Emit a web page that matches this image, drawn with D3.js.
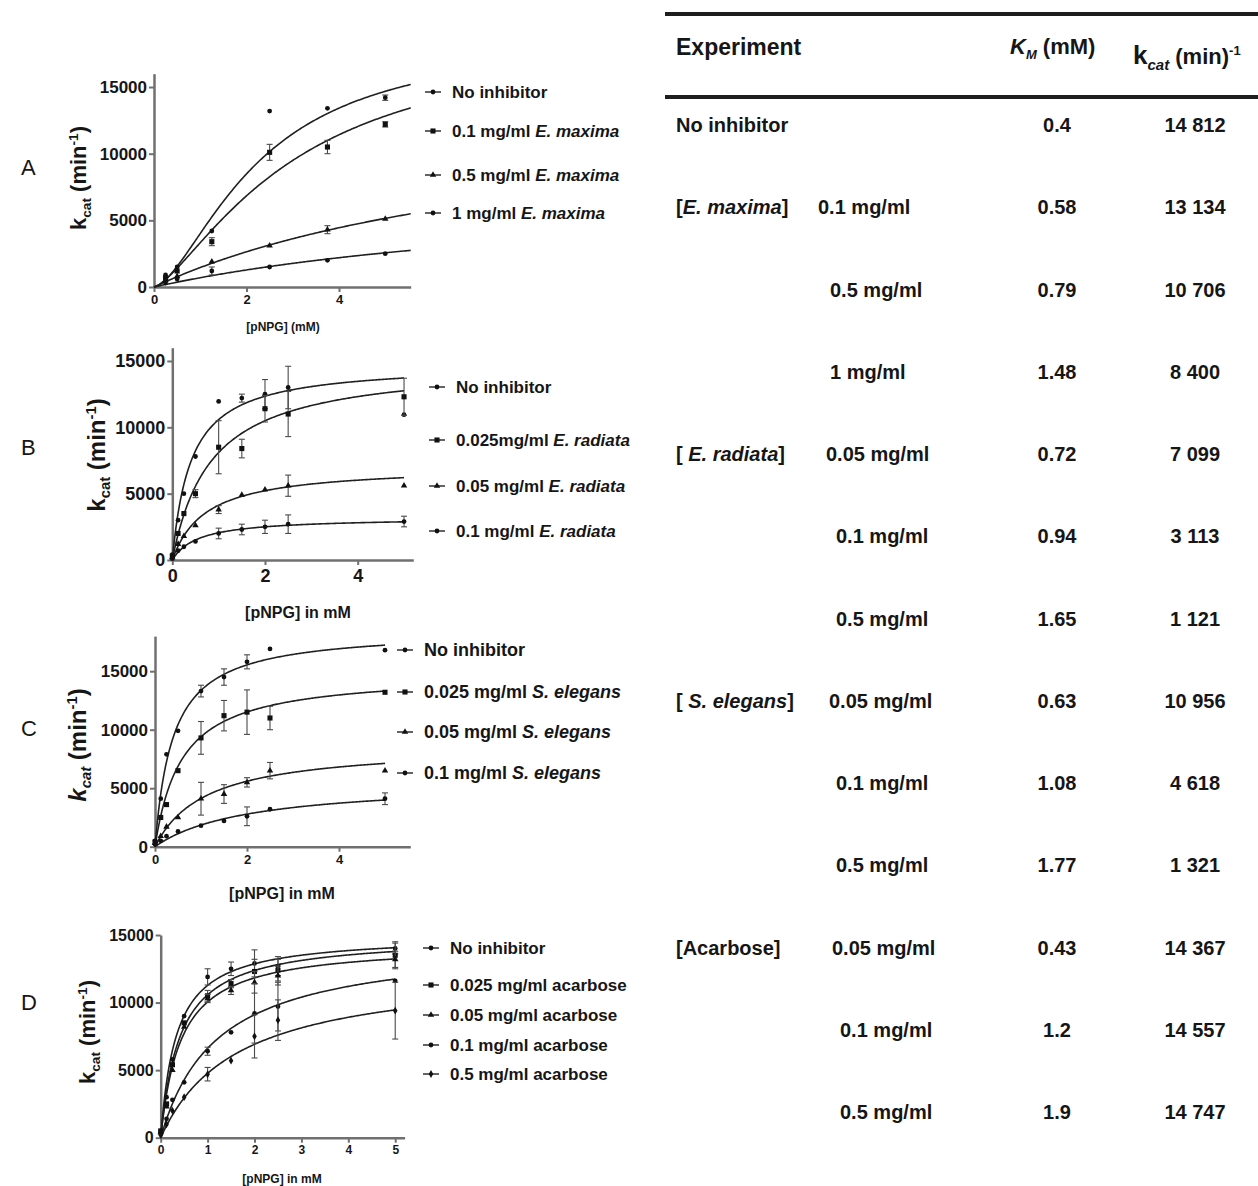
<!DOCTYPE html>
<html>
<head>
<meta charset="utf-8">
<script src="https://cdn.jsdelivr.net/npm/d3@7"></script>
<style>
  body { margin: 0; background: #fff; }
  svg { display: block; font-family: "Liberation Sans", Arial, sans-serif; }
</style>
</head>
<body>
<svg id="fig" width="1258" height="1186"></svg>
<script>
// ---------- Panel A: E. maxima extract ----------
const concA = [0.25, 0.5, 1.25, 2.5, 3.75, 5];
const legendA = [["No inhibitor"], ["0.1 mg/ml ", "E. maxima"], ["0.5 mg/ml ", "E. maxima"], ["1 mg/ml ", "E. maxima"]];
const rateA = [
  [900, 1500, 4200, 13200, 13400, 14200],
  [700, 1200, 3400, 10100, 10500, 12200],
  [500, 800, 1900, 3100, 4300, 5100],
  [300, 600, 1200, 1500, 2000, 2500]
];
const errA = [
  [0, 0, 0, 0, 0, 200],
  [0, 0, 300, 600, 500, 200],
  [0, 0, 0, 0, 300, 0],
  [0, 0, 300, 0, 0, 0]
];
const vmaxA = [18800, 19300, 14000, 7800];
const kmA = [2.26, 3.07, 8.6, 10.2];
const hillA = [1.6, 1.4, 1, 1];

// ---------- Panel B: E. radiata extract ----------
const concB = [0, 0.125, 0.25, 0.5, 1, 1.5, 2, 2.5, 5];
const legendB = [["No inhibitor"], ["0.025mg/ml ", "E. radiata"], ["0.05 mg/ml ", "E. radiata"], ["0.1 mg/ml ", "E. radiata"]];
const rateB = [
  [400, 3000, 5000, 7800, 11950, 12200, 12500, 13000, 10950],
  [300, 2000, 3500, 5000, 8500, 8400, 11400, 11000, 12300],
  [200, 1200, 1800, 2600, 3800, 4900, 5300, 5600, 5600],
  [100, 700, 1000, 1400, 2000, 2300, 2500, 2700, 2900]
];
const errB = [
  [0, 0, 0, 0, 0, 300, 1100, 1600, 0],
  [0, 0, 0, 300, 2000, 700, 1000, 1700, 1400],
  [0, 0, 0, 0, 300, 0, 0, 800, 0],
  [0, 0, 0, 0, 400, 400, 500, 700, 400]
];
const vmaxB = [14812, 14900, 7099, 3200];
const kmB = [0.4, 0.84, 0.72, 0.56];
const hillB = [1, 1, 1, 1];

// ---------- Panel C: S. elegans extract ----------
const concC = [0, 0.125, 0.25, 0.5, 1, 1.5, 2, 2.5, 5];
const legendC = [["No inhibitor"], ["0.025 mg/ml ", "S. elegans"], ["0.05 mg/ml ", "S. elegans"], ["0.1 mg/ml ", "S. elegans"]];
const rateC = [
  [500, 4100, 7900, 9900, 13300, 14500, 15800, 16900, 16800],
  [400, 2500, 3600, 6500, 9300, 11200, 11500, 11000, 13200],
  [300, 900, 1700, 2500, 4100, 4500, 5500, 6500, 6500],
  [200, 500, 900, 1300, 1800, 2200, 2600, 3200, 4100]
];
const errC = [
  [0, 0, 0, 0, 500, 700, 600, 0, 0],
  [0, 0, 0, 0, 1400, 1300, 1900, 1000, 0],
  [0, 0, 0, 0, 1400, 800, 400, 700, 0],
  [0, 0, 0, 0, 0, 0, 800, 0, 500]
];
const vmaxC = [18570, 14850, 8700, 5610];
const kmC = [0.39, 0.58, 1.11, 2.03];
const hillC = [1, 1, 1, 1];

// ---------- Panel D: acarbose ----------
const concD = [0, 0.125, 0.25, 0.5, 1, 1.5, 2, 2.5, 5];
const legendD = [["No inhibitor"], ["0.025 mg/ml acarbose"], ["0.05 mg/ml acarbose"], ["0.1 mg/ml acarbose"], ["0.5 mg/ml acarbose"]];
const rateD = [
  [500, 3000, 5800, 9000, 11900, 12500, 12900, 12700, 14000],
  [500, 2500, 5400, 8500, 10500, 11400, 12300, 12400, 13500],
  [400, 2300, 5000, 8200, 10300, 10900, 11500, 12000, 13200],
  [300, 1400, 2800, 4100, 6400, 7800, 9200, 9700, 11600],
  [200, 1000, 2000, 3000, 4700, 5700, 7500, 8700, 9400]
];
const errD = [
  [0, 0, 0, 0, 600, 500, 1000, 700, 400],
  [0, 0, 0, 0, 400, 300, 900, 800, 1000],
  [0, 0, 0, 0, 300, 300, 800, 700, 600],
  [0, 0, 0, 0, 300, 0, 2200, 1800, 0],
  [0, 0, 0, 0, 500, 0, 1600, 1500, 2100]
];
const vmaxD = [14990, 14910, 14367, 14557, 12540];
const kmD = [0.33, 0.41, 0.43, 1.2, 1.63];
const hillD = [1, 1, 1, 1, 1];

const yTickValues = [0, 5000, 10000, 15000];

// ---------- Kinetic parameter table ----------
const rowGroup = [["No inhibitor"], ["[", "E. maxima", "]"], null, null, ["[ ", "E. radiata", "]"], null, null,
                  ["[ ", "S. elegans", "]"], null, null, ["[Acarbose]"], null, null];
const rowDose = ["", "0.1 mg/ml", "0.5 mg/ml", "1 mg/ml", "0.05 mg/ml", "0.1 mg/ml", "0.5 mg/ml",
                 "0.05 mg/ml", "0.1 mg/ml", "0.5 mg/ml", "0.05 mg/ml", "0.1 mg/ml", "0.5 mg/ml"];
const rowKm = ["0.4", "0.58", "0.79", "1.48", "0.72", "0.94", "1.65", "0.63", "1.08", "1.77", "0.43", "1.2", "1.9"];
const rowKcat = ["14 812", "13 134", "10 706", "8 400", "7 099", "3 113", "1 121", "10 956", "4 618", "1 321",
                 "14 367", "14 557", "14 747"];

const svg = d3.select("#fig");
const INK = "#161616";
const AXIS = "#707070";
const symbols = [d3.symbolCircle, d3.symbolSquare, d3.symbolTriangle, d3.symbolCircle, d3.symbolDiamond];

const hillFn = (V, K, h) => s => V * Math.pow(s, h) / (Math.pow(K, h) + Math.pow(s, h));

// writes segments into a text node, odd segments in italics
function richText(sel, parts) {
  parts.forEach((t, i) => {
    sel.append("tspan").text(t).attr("font-style", i % 2 === 1 ? "italic" : null);
  });
}

function drawPanel(p) {
  const g = svg.append("g");
  const x = d3.scaleLinear().domain(p.xDomain).range(p.xRange);
  const y = d3.scaleLinear().domain(p.yDomain).range(p.yRange);

  // axes
  const gx = g.append("g").attr("transform", `translate(0,${p.yRange[0]})`)
    .call(d3.axisBottom(x).tickValues(p.xTicks).tickSizeInner(5).tickSizeOuter(0).tickPadding(p.xTickPad).tickFormat(d3.format("d")));
  const gy = g.append("g").attr("transform", `translate(${p.xRange[0]},0)`)
    .call(d3.axisLeft(y).tickValues(yTickValues).tickSizeInner(5).tickSizeOuter(0).tickPadding(2).tickFormat(d3.format("d")));
  [gx, gy].forEach(a => {
    a.select(".domain").attr("stroke", AXIS).attr("stroke-width", 2.5);
    a.selectAll(".tick line").attr("stroke", AXIS).attr("stroke-width", 2);
    a.selectAll(".tick text").attr("fill", INK).attr("font-family", null).attr("font-weight", "bold");
  });
  gx.selectAll(".tick text").attr("font-size", p.xTickSize);
  gy.selectAll(".tick text").attr("font-size", p.yTickSize);

  // fitted curves
  const samples = d3.range(0, 201).map(i => p.curveEnd * i / 200);
  p.vmax.forEach((V, i) => {
    const f = hillFn(V, p.km[i], p.hill[i]);
    g.append("path")
      .attr("d", d3.line().x(s => x(s)).y(s => y(f(s)))(samples))
      .attr("fill", "none").attr("stroke", "#202020").attr("stroke-width", 1.6);
  });

  // error bars and points
  p.rates.forEach((series, i) => {
    series.forEach((v, j) => {
      const e = p.errs[i][j];
      if (e > 0) {
        const cx = x(p.conc[j]);
        const eg = g.append("g").attr("stroke", "#4a4a4a").attr("stroke-width", 1.1);
        eg.append("line").attr("x1", cx).attr("x2", cx).attr("y1", y(v - e)).attr("y2", y(v + e));
        eg.append("line").attr("x1", cx - 3).attr("x2", cx + 3).attr("y1", y(v - e)).attr("y2", y(v - e));
        eg.append("line").attr("x1", cx - 3).attr("x2", cx + 3).attr("y1", y(v + e)).attr("y2", y(v + e));
      }
    });
    g.selectAll(null).data(series).enter().append("path")
      .attr("transform", (v, j) => `translate(${x(p.conc[j])},${y(v)})`)
      .attr("d", d3.symbol().type(symbols[i]).size(i === 1 ? 26 : 18))
      .attr("fill", "#111");
  });

  // legend
  p.legend.forEach((parts, i) => {
    const ly = p.legendY[i];
    g.append("line").attr("x1", p.legendX - 8).attr("x2", p.legendX + 8).attr("y1", ly).attr("y2", ly)
      .attr("stroke", "#222").attr("stroke-width", 1.4);
    g.append("path").attr("transform", `translate(${p.legendX},${ly})`)
      .attr("d", d3.symbol().type(symbols[i]).size(i === 1 ? 26 : 18)).attr("fill", "#111");
    const t = g.append("text").attr("x", p.legendX + 19).attr("y", ly).attr("dy", "0.35em")
      .attr("font-size", p.legendSize).attr("font-weight", "bold").attr("fill", INK);
    richText(t, parts);
  });

  // panel letter
  g.append("text").attr("x", 21).attr("y", p.letterY).attr("dy", "0.35em").attr("font-size", 22)
    .attr("fill", INK).text(p.letter);

  // y-axis title: k_cat (min^-1)
  const yl = g.append("text")
    .attr("transform", `translate(${p.yLabel[0]},${p.yLabel[1]}) rotate(-90)`)
    .attr("text-anchor", "middle").attr("font-size", p.yLabelSize).attr("font-weight", "bold").attr("fill", INK);
  yl.append("tspan").text("k").attr("font-style", p.italicK ? "italic" : null);
  yl.append("tspan").text("cat").attr("font-size", p.yLabelSize * 0.62).attr("dy", p.yLabelSize * 0.22)
    .attr("font-style", p.italicK ? "italic" : null);
  yl.append("tspan").text(" (min").attr("dy", -p.yLabelSize * 0.22);
  yl.append("tspan").text("-1").attr("font-size", p.yLabelSize * 0.62).attr("dy", -p.yLabelSize * 0.38);
  yl.append("tspan").text(")").attr("dy", p.yLabelSize * 0.38);

  // x-axis title
  g.append("text").attr("x", p.xLabel[0]).attr("y", p.xLabel[1]).attr("dy", "0.35em")
    .attr("text-anchor", "middle").attr("font-size", p.xLabelSize).attr("font-weight", "bold").attr("fill", INK)
    .text(p.xTitle);
}

drawPanel({
  letter: "A", letterY: 167,
  conc: concA, rates: rateA, errs: errA, vmax: vmaxA, km: kmA, hill: hillA, legend: legendA,
  xDomain: [0, 5.55], xRange: [154, 410.7], yDomain: [0, 16000], yRange: [287, 73.7],
  curveEnd: 5.55, xTicks: [0, 2, 4], xTickSize: 13, xTickPad: 3, yTickSize: 17,
  legendX: 433, legendY: [92, 131, 175, 213], legendSize: 17,
  yLabel: [86, 178], yLabelSize: 22, italicK: false,
  xLabel: [283, 327], xLabelSize: 12, xTitle: "[pNPG] (mM)"
});
drawPanel({
  letter: "B", letterY: 447,
  conc: concB, rates: rateB, errs: errB, vmax: vmaxB, km: kmB, hill: hillB, legend: legendB,
  xDomain: [0, 5.2], xRange: [172.3, 413.3], yDomain: [0, 16000], yRange: [560, 347.7],
  curveEnd: 5, xTicks: [0, 2, 4], xTickSize: 18, xTickPad: 4, yTickSize: 18,
  legendX: 437, legendY: [387, 440, 486, 531], legendSize: 17,
  yLabel: [105, 455], yLabelSize: 24, italicK: false,
  xLabel: [298, 612], xLabelSize: 16, xTitle: "[pNPG] in mM"
});
drawPanel({
  letter: "C", letterY: 728,
  conc: concC, rates: rateC, errs: errC, vmax: vmaxC, km: kmC, hill: hillC, legend: legendC,
  xDomain: [0, 5.55], xRange: [155, 410.3], yDomain: [0, 18000], yRange: [846.7, 636.1],
  curveEnd: 5, xTicks: [0, 2, 4], xTickSize: 13, xTickPad: 3, yTickSize: 17,
  legendX: 405, legendY: [650, 692, 732, 773], legendSize: 18,
  yLabel: [86, 745], yLabelSize: 24, italicK: true,
  xLabel: [282, 893], xLabelSize: 16, xTitle: "[pNPG] in mM"
});
drawPanel({
  letter: "D", letterY: 1002,
  conc: concD, rates: rateD, errs: errD, vmax: vmaxD, km: kmD, hill: hillD, legend: legendD,
  xDomain: [0, 5.2], xRange: [160.7, 404.6], yDomain: [0, 15000], yRange: [1137.7, 935],
  curveEnd: 5, xTicks: [0, 1, 2, 3, 4, 5], xTickSize: 12, xTickPad: 3, yTickSize: 16,
  legendX: 431, legendY: [948, 985, 1015, 1045, 1074], legendSize: 17,
  yLabel: [95, 1032], yLabelSize: 22, italicK: false,
  xLabel: [282, 1179], xLabelSize: 12, xTitle: "[pNPG] in mM"
});

// ---------- table ----------
(function drawTable() {
  const t = svg.append("g").attr("fill", INK).attr("font-weight", "bold");
  t.append("rect").attr("x", 665).attr("y", 12).attr("width", 600).attr("height", 4).attr("fill", "#1e1e1e");
  t.append("rect").attr("x", 665).attr("y", 95).attr("width", 600).attr("height", 4).attr("fill", "#1e1e1e");

  t.append("text").attr("x", 676).attr("y", 47).attr("dy", "0.35em").attr("font-size", 23).text("Experiment");

  const km = t.append("text").attr("x", 1010).attr("y", 46).attr("dy", "0.35em").attr("font-size", 22);
  km.append("tspan").text("K").attr("font-style", "italic");
  km.append("tspan").text("M").attr("font-style", "italic").attr("font-size", 13).attr("dy", 5);
  km.append("tspan").text(" (mM)").attr("dy", -5);

  const kc = t.append("text").attr("x", 1133).attr("y", 56).attr("dy", "0.35em").attr("font-size", 22);
  kc.append("tspan").text("k").attr("font-size", 26);
  kc.append("tspan").text("cat").attr("font-style", "italic").attr("font-size", 15).attr("dy", 6);
  kc.append("tspan").text(" (min)").attr("dy", -6);
  kc.append("tspan").text("-1").attr("font-size", 13).attr("dy", -9);

  const doseX = [818, 818, 830, 830, 826, 836, 836, 829, 836, 836, 832, 840, 840];
  rowKm.forEach((k, i) => {
    const ry = 125 + i * 82.25;
    if (rowGroup[i]) {
      const gt = t.append("text").attr("x", 676).attr("y", ry).attr("dy", "0.35em").attr("font-size", 20);
      richText(gt, rowGroup[i]);
    }
    if (rowDose[i]) {
      t.append("text").attr("x", doseX[i]).attr("y", ry).attr("dy", "0.35em")
        .attr("font-size", 20).text(rowDose[i]);
    }
    t.append("text").attr("x", 1057).attr("y", ry).attr("dy", "0.35em").attr("text-anchor", "middle")
      .attr("font-size", 20).text(k);
    t.append("text").attr("x", 1195).attr("y", ry).attr("dy", "0.35em").attr("text-anchor", "middle")
      .attr("font-size", 20).text(rowKcat[i]);
  });
})();
</script>
</body>
</html>
